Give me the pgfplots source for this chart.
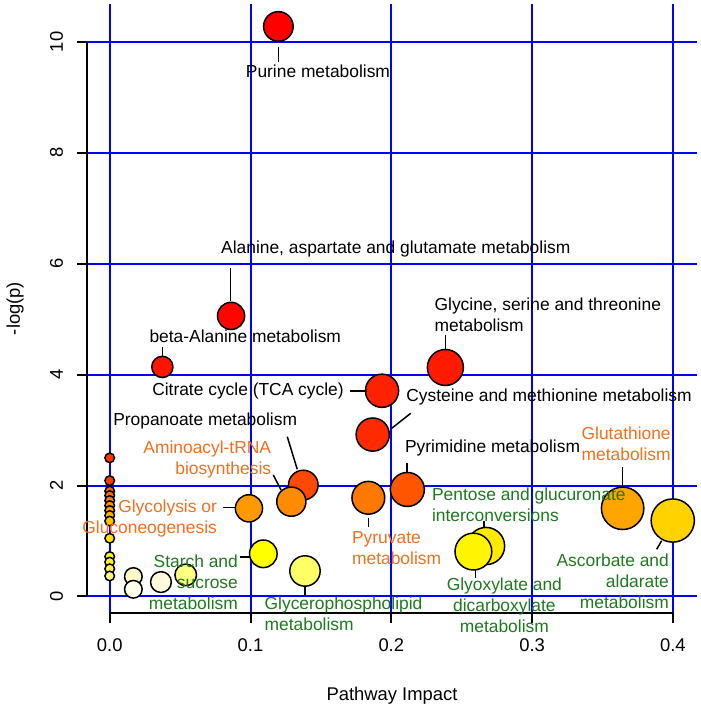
\documentclass[border=0pt]{standalone}
\usepackage{fontspec}
\setmainfont{Liberation Sans}
\usepackage{pgfplots}
\pgfplotsset{compat=1.18}
\definecolor{lblorange}{HTML}{F0701E}
\definecolor{lblgreen}{HTML}{1E7A1E}
\newcommand{\annfont}{\fontsize{8.7}{10.5}\selectfont}
\newcommand{\tickfont}{\fontsize{9.2}{11}\selectfont}
\begin{document}
\begin{tikzpicture}
\begin{axis}[
  name=ax,
  set layers=standard,
  scale only axis,
  width=305pt, height=304.5pt,
  xmin=-0.01612, xmax=0.41712,
  ymin=-0.2976, ymax=10.685,
  clip=false,
  axis line style={draw=none},
  xtick={0,0.1,0.2,0.3,0.4},
  xticklabels={0.0,0.1,0.2,0.3,0.4},
  ytick={0,2,4,6,8,10},
  yticklabels={0,2,4,6,8,10},
  tick align=outside,
  tick pos=left,
  major tick length=5pt,
  tick style={black, line width=1pt},
  grid=major,
  major grid style={blue, line width=1pt},
  xticklabel shift=4.5pt,
  yticklabel shift=3.5pt,
  xticklabel style={font=\tickfont},
  yticklabel style={font=\tickfont, rotate=90, anchor=south},
]
\begin{pgfonlayer}{axis grid}
% R-style axis lines
\draw[black, line width=1pt] (axis cs:0,-0.2976) -- (axis cs:0.4,-0.2976);
\draw[black, line width=1pt] (axis cs:-0.01612,0) -- (axis cs:-0.01612,10);
\end{pgfonlayer}

\addplot[scatter, only marks, mark=*,
  visualization depends on={\thisrow{r} \as \rad},
  visualization depends on=value \thisrow{c} \as \colhex,
  scatter/@pre marker code/.code={%
    \definecolor{mk}{HTML}{\colhex}%
    \scope[mark size=\rad pt, fill=mk, draw=black, line width=0.75pt]%
  },
  scatter/@post marker code/.code={\endscope},
] table[x=x, y=y] {
x       y      r     c
0.1198  10.28  7.4   FF0000
0.0862  5.06   6.8   FF0500
0.0374  4.14   5.3   FF1500
0.2384  4.13   9.0   FF1A00
0.1934  3.71   8.3   FF2200
0.1868  2.92   8.3   FF2A00
0.0     2.50   2.4   FF3300
0.0     2.09   2.4   FF3800
0.1375  2.01   7.4   FF4800
0.2114  1.93   8.5   FF5500
0.0     1.90   2.4   FF6000
0.0     1.82   2.4   FF6E00
0.1837  1.78   8.2   FF7800
0.0     1.73   2.4   FF7F00
0.129   1.71   7.3   FF8C00
0.0     1.64   2.4   FF8F00
0.0989  1.59   6.8   FF9900
0.3643  1.59   10.6  FFA500
0.0     1.55   2.4   FFA500
0.0     1.46   2.4   FFB300
0.3999  1.37   10.8  FFD200
0.0     1.36   2.4   FFC000
0.0     1.05   2.4   FFE000
0.2673  0.91   9.3   FFEA00
0.2583  0.81   9.2   FFF500
0.1091  0.77   6.9   FFFF00
0.0     0.72   2.4   FFF700
0.0     0.62   2.4   FFF22A
0.0     0.50   2.4   FFF44D
0.1387  0.46   7.6   FFFF66
0.054   0.39   5.4   FFFF80
0.0     0.37   2.4   FFF580
0.0168  0.36   4.4   FFF9C4
0.0364  0.26   5.2   FFFBDB
0.0168  0.13   4.4   FFFFEE
};

\begin{pgfonlayer}{axis foreground}
% leader lines
\begin{scope}[line width=0.75pt, black]
\draw (axis cs:0.1199,9.915) -- (axis cs:0.1199,9.644);
\draw (axis cs:0.0859,5.924) -- (axis cs:0.0859,5.329);
\draw (axis cs:0.0374,4.505) -- (axis cs:0.0374,4.337);
\draw (axis cs:0.2384,4.716) -- (axis cs:0.2384,4.472);
\draw (axis cs:0.1707,3.706) -- (axis cs:0.1825,3.706);
\draw (axis cs:0.2138,3.304) -- (axis cs:0.2003,3.033);
\draw (axis cs:0.1261,2.882) -- (axis cs:0.1332,2.294);
\draw (axis cs:0.1162,2.191) -- (axis cs:0.1217,1.921);
\draw (axis cs:0.0807,1.601) -- (axis cs:0.0890,1.601);
\draw (axis cs:0.1837,1.416) -- (axis cs:0.1837,1.253);
\draw (axis cs:0.2112,2.402) -- (axis cs:0.2112,2.245);
\draw (axis cs:0.3643,2.330) -- (axis cs:0.3643,1.980);
\draw (axis cs:0.2660,1.367) -- (axis cs:0.2660,1.230);
\draw (axis cs:0.2599,0.478) -- (axis cs:0.2599,0.328);
\draw (axis cs:0.3920,1.006) -- (axis cs:0.3885,0.851);
\draw (axis cs:0.0925,0.714) -- (axis cs:0.0996,0.714);
\draw (axis cs:0.1387,0.177) -- (axis cs:0.1387,0.027);
\end{scope}

% labels
\begin{scope}[every node/.style={font=\annfont, inner sep=0pt}]
\node at (axis cs:0.1479,9.465) {Purine metabolism};
\node at (axis cs:0.2032,6.267) {Alanine, aspartate and glutamate metabolism};
\node at (axis cs:0.0963,4.685) {beta-Alanine metabolism};
\node[anchor=west, align=left] at (axis cs:0.2305,5.082) {Glycine, serine and threonine\\metabolism};
\node at (axis cs:0.0982,3.706) {Citrate cycle (TCA cycle)};
\node at (axis cs:0.312,3.592) {Cysteine and methionine metabolism};
\node at (axis cs:0.0678,3.165) {Propanoate metabolism};
\node at (axis cs:0.2719,2.683) {Pyrimidine metabolism};
\node[anchor=east, align=right, text=lblorange] at (axis cs:0.1149,2.463) {Aminoacyl-tRNA\\biosynthesis};
\node[anchor=east, align=right, text=lblorange] at (axis cs:0.0764,1.410) {Glycolysis or\\Gluconeogenesis};
\node[anchor=west, align=left, text=lblorange] at (axis cs:0.1719,0.878) {Pyruvate\\metabolism};
\node[align=center, text=lblorange] at (axis cs:0.3668,2.747) {Glutathione\\metabolism};
\node[anchor=west, align=left, text=lblgreen] at (axis cs:0.2287,1.652) {Pentose and glucuronate\\interconversions};
\node[align=center, text=lblgreen] at (axis cs:0.2803,-0.166) {Glyoxylate and\\dicarboxylate\\metabolism};
\node[anchor=east, align=right, text=lblgreen] at (axis cs:0.3974,0.2795) {Ascorbate and\\aldarate\\metabolism};
\node[anchor=east, align=right, text=lblgreen] at (axis cs:0.0913,0.249) {Starch and\\sucrose\\metabolism};
\node[anchor=west, align=left, text=lblgreen] at (axis cs:0.1098,-0.319) {Glycerophospholipid\\metabolism};
\end{scope}

% axis titles
\node[font=\tickfont, rotate=90] at ([xshift=-36pt]rel axis cs:0,0.5) {-log(p)};
\node[font=\tickfont] at ([yshift=-41.5pt]rel axis cs:0.5,0) {Pathway Impact};
\end{pgfonlayer}
\end{axis}
\pgfresetboundingbox
\path[use as bounding box] ([shift={(-43.5pt,-48pt)}]ax.south west) rectangle ([shift={(1.5pt,2pt)}]ax.north east);
\end{tikzpicture}
\end{document}
